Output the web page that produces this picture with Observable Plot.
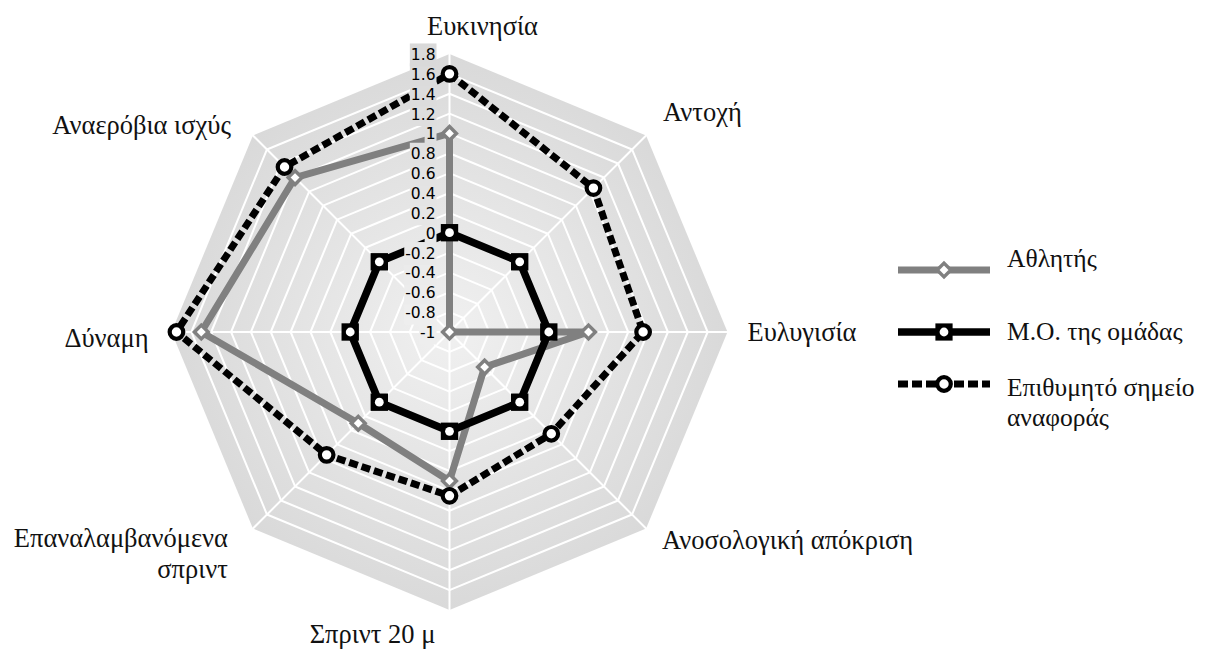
<!DOCTYPE html>
<html lang="el">
<head>
<meta charset="utf-8">
<script src="https://cdn.jsdelivr.net/npm/d3@7"></script>
<script src="https://cdn.jsdelivr.net/npm/@observablehq/plot@0.6"></script>
<style>
  html,body{margin:0;padding:0;background:#fff;}
  #wrap{position:relative;width:1209px;height:650px;overflow:hidden;}
  #chart{position:absolute;left:0;top:0;}
  #legend{position:absolute;left:0;top:0;pointer-events:none;}
</style>
</head>
<body>
<div id="wrap"><div id="chart"></div><svg id="legend" width="1209" height="650"></svg></div>
<script>
// ---------- data ----------
const categories = ["Ευκινησία","Αντοχή","Ευλυγισία","Ανοσολογική απόκριση","Σπριντ 20 μ","Επαναλαμβανόμενα σπριντ","Δύναμη","Αναερόβια ισχύς"];
const seriesNames = ["Αθλητής","Μ.Ο. της ομάδας","Επιθυμητό σημείο αναφοράς"];
const athleteValues = [1, -1, 0.4, -0.5, 0.5, 0.3, 1.5, 1.2];
const teamAverageValues = [0, 0, 0, 0, 0, 0, 0, 0];
const targetValues = [1.6, 1.05, 0.95, 0.45, 0.65, 0.75, 1.75, 1.35];
const tickValues = [-1, -0.8, -0.6, -0.4, -0.2, 0, 0.2, 0.4, 0.6, 0.8, 1, 1.2, 1.4, 1.6, 1.8];
const tickLabels = ["-1","-0.8","-0.6","-0.4","-0.2","0","0.2","0.4","0.6","0.8","1","1.2","1.4","1.6","1.8"];

// ---------- layout ----------
const W = 1209, H = 650, CX = 449, CY = 331.5, R = 278;
const rMin = tickValues[0], rMax = tickValues[tickValues.length - 1];
const k = R / (rMax - rMin);
const n = categories.length;
const ang = i => i * 2 * Math.PI / n;
const px = (v, i) => (v - rMin) * Math.sin(ang(i));
const py = (v, i) => (v - rMin) * Math.cos(ang(i));
const serifFont = "'Liberation Serif', 'Times New Roman', serif";
const sansFont = "'DejaVu Sans', sans-serif";
const labelSize = 26.5;
const legendSize = 25.5;
const bgInner = "#f0f0f0", bgOuter = "#d9d9d9";

const toPts = (vals, name) => vals.map((v, i) => ({series: name, cat: categories[i], v, x: px(v, i), y: py(v, i)}));
const athletePts = toPts(athleteValues, seriesNames[0]);
const teamPts = toPts(teamAverageValues, seriesNames[1]);
const targetPts = toPts(targetValues, seriesNames[2]);

const outerPts = categories.map((c, i) => ({x: px(rMax, i), y: py(rMax, i)}));
const ringPts = tickValues.slice(1, -1).flatMap(t => categories.map((c, i) => ({t, x: px(t, i), y: py(t, i)})));
const spokePts = categories.flatMap((c, i) => [{i, x: px(rMin, i), y: py(rMin, i)}, {i, x: px(rMax, i), y: py(rMax, i)}]);

// category label placement (pixel offsets from the outer vertex)
const labelLayout = [
  {anchor: "middle", dx: 33, dy: -29},
  {anchor: "start", dx: 17, dy: -24},
  {anchor: "start", dx: 20, dy: -1},
  {anchor: "start", dx: 16, dy: 11},
  {anchor: "middle", dx: -77, dy: 23.5},
  {anchor: "end", dx: -25, dy: 24},
  {anchor: "end", dx: -23, dy: 5},
  {anchor: "end", dx: -22, dy: -11}
];
const wrapLabel = s => s === "Επαναλαμβανόμενα σπριντ" ? "Επαναλαμβανόμενα\nσπριντ" : s;
const catLabels = categories.map((c, i) => ({
  text: wrapLabel(c),
  anchor: labelLayout[i].anchor,
  x: px(rMax, i) + labelLayout[i].dx / k,
  y: py(rMax, i) - labelLayout[i].dy / k
}));
const labelMark = anchor => Plot.text(catLabels.filter(d => d.anchor === anchor), {
  x: "x", y: "y", text: "text", textAnchor: anchor, lineAnchor: "middle",
  fontFamily: serifFont, fontSize: labelSize, fill: "#111", lineHeight: 1.15
});

const plot = Plot.plot({
  width: W, height: H, margin: 0,
  x: {domain: [-CX / k, (W - CX) / k], range: [0, W], axis: null},
  y: {domain: [-(H - CY) / k, CY / k], range: [H, 0], axis: null},
  style: {background: "transparent", overflow: "visible"},
  marks: [
    Plot.line(outerPts, {x: "x", y: "y", curve: "linear-closed", fill: "url(#radarBg)", stroke: "none"}),
    Plot.line(ringPts, {x: "x", y: "y", z: "t", curve: "linear-closed", stroke: "#ffffff", strokeWidth: 2}),
    Plot.line(spokePts, {x: "x", y: "y", z: "i", stroke: "#ffffff", strokeWidth: 2}),
    // Athlete
    Plot.line(athletePts, {x: "x", y: "y", curve: "linear-closed", stroke: "#808080", strokeWidth: 7, strokeLinejoin: "round"}),
    Plot.dot(athletePts, {x: "x", y: "y", symbol: "diamond2", r: 6.2, fill: "#ffffff", stroke: "#808080", strokeWidth: 3.5}),
    // Team average
    Plot.line(teamPts, {x: "x", y: "y", curve: "linear-closed", stroke: "#000000", strokeWidth: 7.5, strokeLinejoin: "round"}),
    Plot.dot(teamPts, {x: "x", y: "y", symbol: "square", r: 9.8, fill: "#000000", stroke: "none"}),
    Plot.dot(teamPts, {x: "x", y: "y", r: 4.4, fill: "#ffffff", stroke: "none"}),
    // Target
    Plot.line(targetPts, {x: "x", y: "y", curve: "linear-closed", stroke: "#000000", strokeWidth: 7, strokeDasharray: "9,4", strokeLinecap: "butt"}),
    Plot.dot(targetPts, {x: "x", y: "y", r: 6.8, fill: "#ffffff", stroke: "#000000", strokeWidth: 4.2}),
    // radial tick labels
    Plot.text(tickValues, {x: d => px(d, 0), y: d => py(d, 0), text: (d, i) => tickLabels[i], textAnchor: "end", dx: -14, dy: 1,
      fontFamily: sansFont, fontSize: 15.5, fill: "#000"}),
    labelMark("start"), labelMark("middle"), labelMark("end")
  ]
});
document.getElementById("chart").appendChild(plot);

// radial gradient background (centred on the radar centre)
const svg = d3.select(plot);
const xs = plot.scale("x"), ys = plot.scale("y");
const grad = svg.insert("defs", ":first-child").append("radialGradient")
  .attr("id", "radarBg").attr("gradientUnits", "userSpaceOnUse")
  .attr("cx", xs.apply(0)).attr("cy", ys.apply(0)).attr("r", R);
grad.append("stop").attr("offset", "0%").attr("stop-color", bgInner);
grad.append("stop").attr("offset", "100%").attr("stop-color", bgOuter);

// opaque boxes behind the tick labels (they hide lines underneath, as in the original)
const bgAt = d3.interpolateRgb(bgInner, bgOuter);
const tickSet = new Set(tickLabels);
const tickTexts = svg.selectAll("text").nodes().filter(t => tickSet.has(t.textContent) && t.getAttribute("font-family") !== serifFont);
const tickGroupTexts = tickTexts.length ? tickTexts.filter(t => t.parentNode === tickTexts[0].parentNode) : [];
if (tickGroupTexts.length) {
  const parent = tickGroupTexts[0].parentNode;
  const first = parent.firstChild;
  tickGroupTexts.forEach(t => {
    const idx = tickLabels.indexOf(t.textContent);
    const b = t.getBBox();
    const r = document.createElementNS("http://www.w3.org/2000/svg", "rect");
    r.setAttribute("x", b.x - 1); r.setAttribute("y", b.y - 2.5);
    r.setAttribute("width", b.width + 2); r.setAttribute("height", b.height + 5);
    r.setAttribute("fill", bgAt(Math.min(1, Math.hypot((tickValues[idx] - rMin) * k, 22) / R)));
    if (t.getAttribute("transform")) r.setAttribute("transform", t.getAttribute("transform"));
    parent.insertBefore(r, first);
  });
}

// ---------- legend ----------
const lg = d3.select("#legend");
const LX0 = 898, LX1 = 990, LXM = 944, TX = 1007;
const rows = [
  {y: 270, base: [267], lines: [seriesNames[0]], kind: "athlete"},
  {y: 332, base: [340], lines: [seriesNames[1]], kind: "team"},
  {y: 384, base: [396, 426], lines: ["Επιθυμητό σημείο", "αναφοράς"], kind: "target"}
];
rows.forEach(r => {
  if (r.kind === "athlete") {
    lg.append("line").attr("x1", LX0).attr("x2", LX1).attr("y1", r.y).attr("y2", r.y).attr("stroke", "#808080").attr("stroke-width", 7);
    lg.append("path").attr("transform", `translate(${LXM},${r.y})`).attr("d", d3.symbol(d3.symbolDiamond2, Math.PI * 6.2 * 6.2)())
      .attr("fill", "#fff").attr("stroke", "#808080").attr("stroke-width", 3.5);
  } else if (r.kind === "team") {
    lg.append("line").attr("x1", LX0).attr("x2", LX1).attr("y1", r.y).attr("y2", r.y).attr("stroke", "#000").attr("stroke-width", 7.5);
    lg.append("rect").attr("x", LXM - 8.6).attr("y", r.y - 8.6).attr("width", 17.2).attr("height", 17.2).attr("fill", "#000");
    lg.append("circle").attr("cx", LXM).attr("cy", r.y).attr("r", 4.4).attr("fill", "#fff");
  } else {
    lg.append("line").attr("x1", LX0).attr("x2", LX1).attr("y1", r.y).attr("y2", r.y).attr("stroke", "#000").attr("stroke-width", 7)
      .attr("stroke-dasharray", "10,4");
    lg.append("circle").attr("cx", LXM).attr("cy", r.y).attr("r", 6.8).attr("fill", "#fff").attr("stroke", "#000").attr("stroke-width", 4.2);
  }
  r.lines.forEach((t, j) => {
    lg.append("text").attr("x", TX).attr("y", r.base[j]).attr("font-family", serifFont).attr("font-size", legendSize)
      .attr("fill", "#111").text(t);
  });
});
</script>
</body>
</html>
